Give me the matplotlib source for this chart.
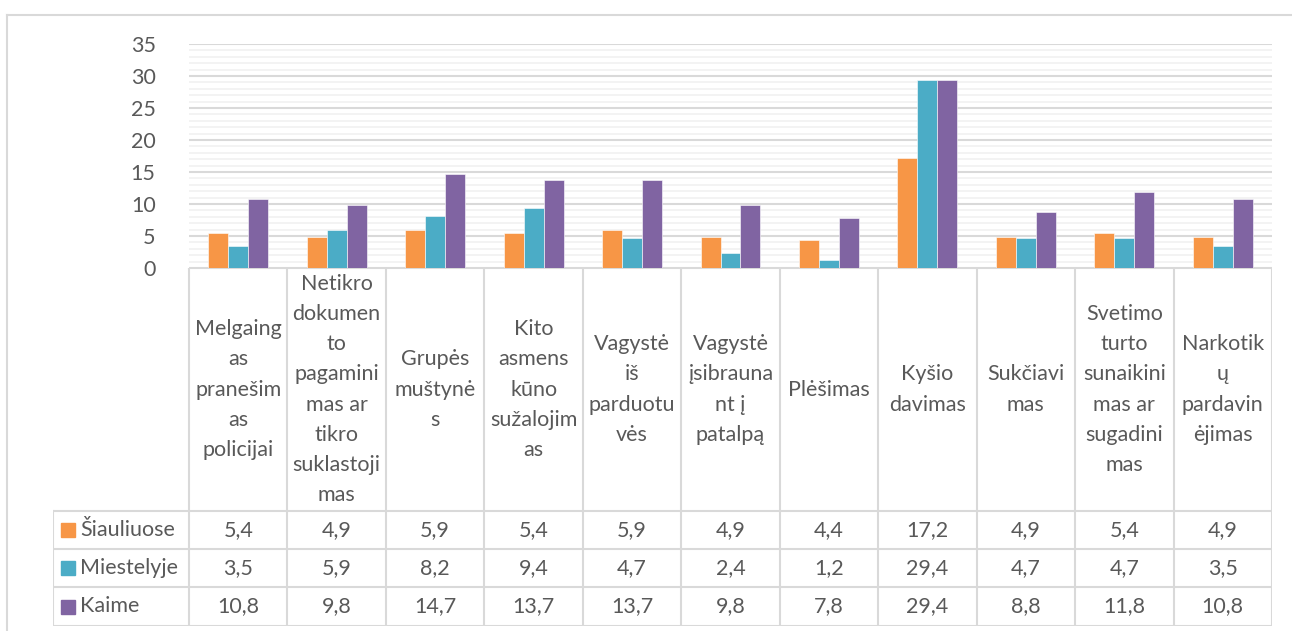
import matplotlib.pyplot as plt
from matplotlib.patches import Rectangle
import numpy as np

plt.rcParams['font.family'] = ['Lato', 'DejaVu Sans']

# kategorijos (su eilučių laužymu kaip originale)
kategorijos = [
    "Melgaing\nas\npranešim\nas\npolicijai",
    "Netikro\ndokumen\nto\npagamini\nmas ar\ntikro\nsuklastoji\nmas",
    "Grupės\nmuštynė\ns",
    "Kito\nasmens\nkūno\nsužalojim\nas",
    "Vagystė\niš\nparduotu\nvės",
    "Vagystė\nįsibrauna\nnt į\npatalpą",
    "Plėšimas",
    "Kyšio\ndavimas",
    "Sukčiavi\nmas",
    "Svetimo\nturto\nsunaikini\nmas ar\nsugadini\nmas",
    "Narkotik\nų\npardavin\nėjimas",
]
serijos = ["Šiauliuose", "Miestelyje", "Kaime"]
siauliuose = [5.4, 4.9, 5.9, 5.4, 5.9, 4.9, 4.4, 17.2, 4.9, 5.4, 4.9]
miestelyje = [3.5, 5.9, 8.2, 9.4, 4.7, 2.4, 1.2, 29.4, 4.7, 4.7, 3.5]
kaime = [10.8, 9.8, 14.7, 13.7, 13.7, 9.8, 7.8, 29.4, 8.8, 11.8, 10.8]
reiksmes = [siauliuose, miestelyje, kaime]
spalvos = ['#F79646', '#4BACC6', '#8064A2']

W, H = 1292, 631
fig = plt.figure(figsize=(W / 100, H / 100), dpi=100)

tekstas = '#595959'
linija = '#D9D9D9'
fs = 15.5

# plot area in pixels
px_l, px_r, px_t, px_b = 189, 1272, 44, 268
ax = fig.add_axes([px_l / W, 1 - px_b / H, (px_r - px_l) / W, (px_b - px_t) / H])

n = len(kategorijos)
x = np.arange(n)
bw = 0.203
for i, (vals, c) in enumerate(zip(reiksmes, spalvos)):
    ax.bar(x + (i - 1) * bw, vals, bw, color=c, edgecolor='white', linewidth=0.4, zorder=3)

ax.set_xlim(-0.5, n - 0.5)
ax.set_ylim(0, 35)
ax.set_yticks(range(0, 36, 5))
ax.set_yticks(range(0, 36), minor=True)
ax.grid(axis='y', which='minor', color='#F2F2F2', linewidth=1.3, zorder=0)
ax.grid(axis='y', which='major', color=linija, linewidth=1.5, zorder=1)
ax.tick_params(axis='y', which='both', length=0, pad=24, labelsize=fs, labelcolor=tekstas)
ax.set_xticks([])
for s in ['top', 'right', 'left', 'bottom']:
    ax.spines[s].set_visible(False)

# data table below
leg_l = 53
row_edges = [268, 511, 549, 587, 626]
col_w = (px_r - px_l) / n
tab = fig.add_axes([leg_l / W, 1 - row_edges[-1] / H, (px_r - leg_l) / W,
                    (row_edges[-1] - row_edges[0]) / H])
lx0 = -0.5 - (px_l - leg_l) / col_w
tab.set_xlim(lx0, n - 0.5)
tab.set_ylim(row_edges[-1], row_edges[0])
tab.axis('off')

lk = dict(color=linija, linewidth=1.5, solid_capstyle='projecting')
# horizontal lines
tab.plot([-0.5, n - 0.5], [row_edges[0]] * 2, **lk)
for y in row_edges[1:]:
    tab.plot([lx0, n - 0.5], [y, y], **lk)
# vertical lines
for k in range(n + 1):
    tab.plot([k - 0.5] * 2, [row_edges[0], row_edges[-1]], **lk)
tab.plot([lx0] * 2, [row_edges[1], row_edges[-1]], **lk)

hdr_mid = (row_edges[0] + row_edges[1]) / 2
for k, kat in enumerate(kategorijos):
    tab.text(k, hdr_mid, kat, ha='center', va='center', fontsize=fs, color=tekstas,
             linespacing=1.64)

sq = 14 / col_w
for r, (nm, vals, c) in enumerate(zip(serijos, reiksmes, spalvos)):
    ymid = (row_edges[r + 1] + row_edges[r + 2]) / 2
    tab.add_patch(Rectangle((lx0 + 8 / col_w, ymid - 7), sq, 14, color=c, clip_on=False))
    tab.text(lx0 + 27 / col_w, ymid, nm, ha='left', va='center', fontsize=fs, color=tekstas)
    for k, v in enumerate(vals):
        tab.text(k, ymid, f"{v:.1f}".replace('.', ','), ha='center', va='center',
                 fontsize=fs, color=tekstas)

# outer chart frame (top and left)
fr = fig.add_axes([0, 0, 1, 1], zorder=-1)
fr.set_xlim(0, W)
fr.set_ylim(H, 0)
fr.axis('off')
fr.plot([7, W], [15, 15], color=linija, linewidth=1.5)
fr.plot([7, 7], [15, H], color=linija, linewidth=1.5)

fig.savefig('out.png', dpi=100)
